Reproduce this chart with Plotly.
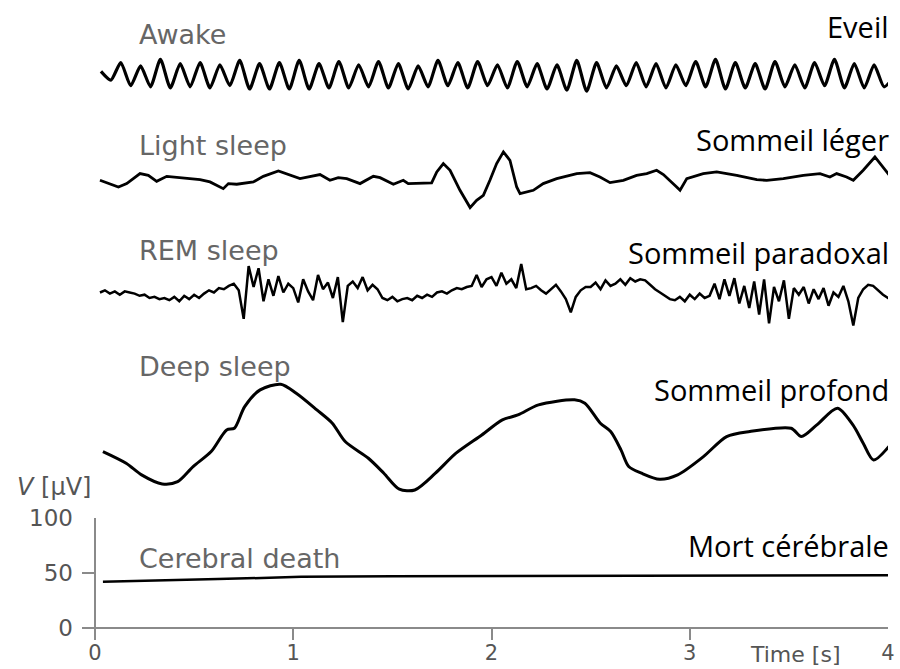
import numpy as np
import plotly.graph_objects as go

# ---------------- data (µV, time in s) ----------------
x_tick_vals = [0, 1, 2, 3, 4]
x_tick_text = ["0", "1", "2", "3", "4"]
y_tick_vals = [0, 50, 100]
y_tick_text = ["0", "50", "100"]

# Awake: alpha rhythm, sampled every 0.05 s starting at 0.03 s (deviation, µV)
awake_t0, awake_dt = 0.03, 0.05
awake_uv = [3, -5, 11, -10, 8, -11, 14, -12, 10, -11,
            11, -12, 9, -10, 13, -13, 10, -13, 11, -13,
            13, -13, 10, -12, 12, -12, 9, -11, 12, -12,
            10, -13, 8, -11, 13, -10, 11, -12, 12, -10,
            9, -12, 12, -11, 10, -13, 9, -14, 13, -15,
            11, -12, 8, -10, 11, -11, 10, -12, 9, -10,
            12, -11, 14, -13, 11, -12, 10, -13, 12, -11,
            9, -12, 11, -10, 14, -12, 10, -12, 9, -11,
            -2]
awake_offset = 503

# Light sleep
light_t = [0.025, 0.118, 0.160, 0.227, 0.269, 0.311, 0.362, 0.429, 0.530, 0.580,
           0.647, 0.673, 0.715, 0.799, 0.849, 0.925, 0.984, 1.034, 1.135, 1.185,
           1.227, 1.270, 1.337, 1.404, 1.438, 1.505, 1.555, 1.580, 1.698, 1.724,
           1.757, 1.791, 1.841, 1.892, 1.925, 1.959, 1.992, 2.026, 2.060, 2.093,
           2.127, 2.144, 2.211, 2.261, 2.329, 2.430, 2.497, 2.547, 2.598, 2.665,
           2.732, 2.783, 2.833, 2.867, 2.934, 2.951, 2.985, 3.068, 3.136, 3.237,
           3.338, 3.388, 3.472, 3.573, 3.657, 3.707, 3.741, 3.791, 3.825, 3.875,
           3.934, 3.976, 4.027]
light_uv = [0, -6.1, -3.0, 6.1, 4.5, -0.9, 3.6, 2.4, 0.6, -1.5,
            -7.6, -3.0, -3.6, -1.5, 3.6, 8.5, 4.5, 1.5, 5.2, 0,
            2.4, 1.5, -3.0, 3.6, 2.4, -3.6, 0, -3.0, -2.4, 7.6,
            15.2, 9.1, -9.1, -24.8, -18.2, -13.6, 0, 15.2, 25.8, 18.2,
            -6.1, -12.1, -9.1, -3.0, 1.5, 6.1, 7.0, 3.0, -2.1, 0,
            4.5, 6.1, 9.1, 5.2, -6.1, -9.1, 1.5, 6.1, 7.6, 4.5,
            0.6, 0, 1.5, 4.5, 6.1, 3.0, 6.1, 3.0, 0, 9.1,
            21.2, 12.1, 0]
light_offset = 407

# REM sleep, sampled every 0.025 s starting at 0.025 s
rem_t0, rem_dt = 0.025, 0.025
rem_uv = [0, 2, -1, 1, -2, 1, 0,
          -1, -3, -2, -5, -4, -6, -5,
          -7, -4, -8, -3, -6, -2, -5,
          -1, 2, 0, 4, 3, 6,
          8, 2, -24, 24, 5, 22, -8,
          12, -3, 15, 0, 8,
          4, -9, 12, 1, -7, 16, 3, 9, -5, 14, -27,
          6, 10, 4, 14, 2, 7, 3,
          -5, -7, -4, -8, -6, -5, -7, -3, -5,
          -2, -4, 0, 1, -1, 2, 4, 3, 5,
          6, 16, 5, 12,
          14, 6, 18, 8, 12, 4, 26, 3,
          4, 6, 2, -1, 3, 7, 1, -6, -18, -4, 2, 5,
          5, 9, 3, 11, 6, 8, 12, 7, 13, 10, 12,
          11, 7, 3, 0, -3, -6, -7,
          -4, -8, -2, -6, -1, -5, -3,
          8, -6, 12, -3, 13, -10, 6, -14, 10, -20, 12, -28, 5, -8, 11, -24, 4,
          -2, 5, -10, 3, -6, 4, -12, 0, -4, 6, -8,
          -30, -5,
          3, 7, 6, 2, -2, -5, -8]
rem_offset = 305

# Deep sleep
deep_t = [0.040, 0.157, 0.235, 0.339, 0.417, 0.495, 0.586, 0.664, 0.703, 0.755,
          0.833, 0.937, 1.015, 1.119, 1.197, 1.262, 1.379, 1.457, 1.535, 1.613,
          1.717, 1.821, 1.951, 2.055, 2.133, 2.237, 2.419, 2.471, 2.549, 2.601,
          2.653, 2.692, 2.757, 2.848, 2.939, 3.069, 3.186, 3.303, 3.511, 3.563,
          3.641, 3.745, 3.823, 3.875, 3.927, 4.018]
deep_uv = [-10.6, -21.2, -31.8, -40.0, -37.9, -24.2, -10.6, 9.1, 10.6, 30.3,
           45.5, 50.6, 42.4, 27.3, 15.2, -1.5, -16.7, -30.3, -44.8, -45.5,
           -30.3, -12.1, 4.5, 18.2, 22.7, 31.8, 36.4, 33.3, 15.2, 7.6,
           -9.1, -24.2, -30.3, -35.8, -31.8, -15.2, 3.0, 7.6, 10.6, 3.0,
           13.6, 28.8, 13.6, -3.0, -18.2, -3.0]
deep_offset = 171

# Cerebral death (absolute µV on the drawn axis)
death_t = [0.04, 0.34, 0.62, 0.84, 1.04, 1.5, 2.0, 2.5, 3.0, 3.5, 4.0]
death_uv = [42, 43, 44.5, 45.5, 46.5, 47, 47.3, 47.5, 47.6, 47.8, 48]

# Labels
eng_labels = ["Awake", "Light sleep", "REM sleep", "Deep sleep", "Cerebral death"]
fr_labels = ["Eveil", "Sommeil léger", "Sommeil paradoxal", "Sommeil profond", "Mort cérébrale"]

# ---------------- figure ----------------
W, H = 900, 669
PX_PER_UV = 1.1
X0_PX, X4_PX = 95, 888
PX_PER_S = (X4_PX - X0_PX) / 4
ZERO_PX = 628


def ypx_to_uv(py):
    return (ZERO_PX - py) / PX_PER_UV


awake_t = awake_t0 + awake_dt * np.arange(len(awake_uv))
rem_t = rem_t0 + rem_dt * np.arange(len(rem_uv))

fig = go.Figure()
common = dict(mode="lines", hoverinfo="skip", xaxis="x2", yaxis="y2")
fig.add_trace(go.Scatter(x=awake_t, y=np.array(awake_uv) + awake_offset,
                         line=dict(color="black", width=3.2, shape="spline", smoothing=0.6), **common))
fig.add_trace(go.Scatter(x=light_t, y=np.array(light_uv) + light_offset,
                         line=dict(color="black", width=2.8), **common))
fig.add_trace(go.Scatter(x=rem_t, y=np.array(rem_uv) + rem_offset,
                         line=dict(color="black", width=2.5), **common))
fig.add_trace(go.Scatter(x=deep_t, y=np.array(deep_uv) + deep_offset,
                         line=dict(color="black", width=3, shape="spline", smoothing=0.8), **common))
fig.add_trace(go.Scatter(x=death_t, y=death_uv, mode="lines", hoverinfo="skip",
                         line=dict(color="black", width=2.5), xaxis="x", yaxis="y"))

x_left = (82 - X0_PX) / PX_PER_S
gray_axis = "#8a8a8a"
ytick_font = dict(family="DejaVu Sans", size=23, color="#555555")
xtick_font = dict(family="DejaVu Sans", size=21, color="#555555")
x_dom = [82 / W, X4_PX / W]

fig.update_layout(
    width=W, height=H,
    margin=dict(l=0, r=0, t=0, b=0, autoexpand=False),
    paper_bgcolor="white", plot_bgcolor="rgba(0,0,0,0)",
    showlegend=False,
    xaxis=dict(domain=x_dom, range=[x_left, 4.0], anchor="y", side="bottom",
               showline=False, zeroline=True, zerolinecolor=gray_axis, zerolinewidth=2,
               ticks="inside", ticklen=12, tickwidth=2, tickcolor=gray_axis,
               tickvals=x_tick_vals, ticktext=x_tick_text, tickfont=xtick_font,
               showgrid=False, automargin=False, ticklabelstandoff=-2),
    yaxis=dict(domain=[1 - 640 / H, 1 - 518 / H], range=[ypx_to_uv(640), 100],
               anchor="x", side="left",
               showline=False, zeroline=True, zerolinecolor=gray_axis, zerolinewidth=2,
               ticks="inside", ticklen=13, tickwidth=2, tickcolor=gray_axis,
               tickvals=y_tick_vals, ticktext=y_tick_text, tickfont=ytick_font,
               showgrid=False, automargin=False, ticklabelstandoff=8),
    xaxis2=dict(domain=x_dom, range=[x_left, 4.0], anchor="y2", visible=False,
                showgrid=False, zeroline=False, automargin=False),
    yaxis2=dict(domain=[0, 1], range=[ypx_to_uv(H), ypx_to_uv(0)], anchor="x2",
                visible=False, showgrid=False, zeroline=False, automargin=False),
)

eng_y_px = [34, 145, 250, 366, 558]
fr_y_px = [26, 139, 252, 389, 545]
eng_font = dict(family="DejaVu Sans", size=27, color="#666666")
fr_font = dict(family="Open Sans", size=29, color="black")
for lab, py in zip(eng_labels, eng_y_px):
    fig.add_annotation(x=(140 - X0_PX) / PX_PER_S, y=ypx_to_uv(py), xref="x2", yref="y2",
                       text=lab, showarrow=False, xanchor="left", yanchor="middle",
                       font=eng_font, xshift=-3)
for lab, py in zip(fr_labels, fr_y_px):
    fig.add_annotation(x=4.0, y=ypx_to_uv(py), xref="x2", yref="y2",
                       text=lab, showarrow=False, xanchor="right", yanchor="middle",
                       font=fr_font, xshift=3)

fig.add_annotation(x=15 / W, y=ypx_to_uv(487), xref="paper", yref="y2",
                   text="<i>V</i> [µV]", showarrow=False, xanchor="left", yanchor="middle",
                   font=dict(family="DejaVu Sans", size=24, color="#555555"))
fig.add_annotation(x=(795 - X0_PX) / PX_PER_S, y=ypx_to_uv(654), xref="x2", yref="y2",
                   text="Time [s]", showarrow=False, xanchor="center", yanchor="middle",
                   font=dict(family="DejaVu Sans", size=22, color="#555555"))

fig.write_html("out.html")
